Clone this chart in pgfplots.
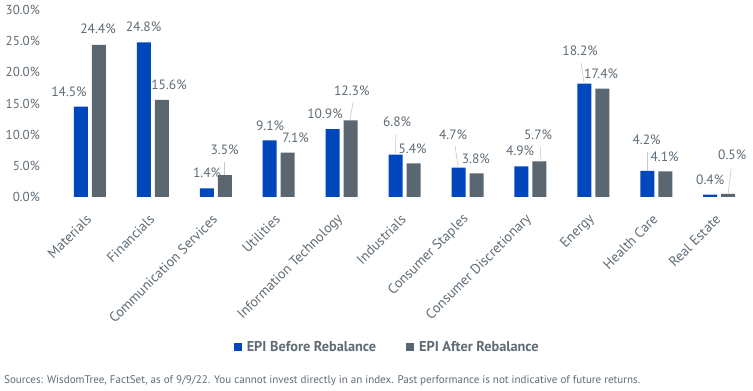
\documentclass[border=0pt]{standalone}
\usepackage{fontspec}
\setmainfont{PT Sans}
\usepackage{pgfplots}
\usepackage{pgfplotstable}
\pgfplotsset{compat=1.18}
\definecolor{epiblue}{HTML}{0047BB}
\definecolor{epigray}{HTML}{5B6770}
\definecolor{txtgray}{HTML}{5F6B75}
\definecolor{leadgray}{HTML}{C4C8CC}

% x = category index, y = weight (%), lx/ly = label offset (bp) from bar top
\pgfplotstableread{
x y lx ly
0 14.5 -12.0 14.6
1 24.8 -0.4 15.4
2 1.4 0.2 15.3
3 9.1 0.3 14.6
4 10.9 -7.6 15.1
5 6.8 1.5 32.6
6 4.7 -5.4 33.0
7 4.9 -1.3 15.5
8 18.2 -4.2 32.9
9 4.2 -0.6 30.8
10 0.4 0.0 15.2
}\before
\pgfplotstableread{
x y lx ly
0 24.4 -1.0 15.9
1 15.6 7.1 14.8
2 3.5 -0.3 25.2
3 7.1 7.8 15.0
4 12.3 1.1 29.6
5 5.4 -1.0 14.3
6 3.8 -0.7 14.3
7 5.7 -1.3 26.8
8 17.4 -1.2 14.5
9 4.1 -0.6 14.7
10 0.5 4.0 38.9
}\after

\begin{document}
\begin{tikzpicture}
\useasboundingbox (0,0) rectangle (753bp,391bp);
\begin{axis}[
  at={(45bp,194bp)}, anchor=south west,
  scale only axis, width=705bp, height=187bp,
  xmin=-0.715, xmax=10.49, ymin=0, ymax=30,
  clip=false,
  axis line style={draw=none},
  major tick length=0pt,
  ybar=4bp, bar width=14bp,
  ytick={0,5,10,15,20,25,30},
  yticklabel={\pgfmathprintnumber[fixed,fixed zerofill,precision=1]{\tick}\%},
  /pgf/number format/assume math mode=true,
  yticklabel style={anchor=east, inner sep=0pt, xshift=-5bp, text=txtgray,
    font=\fontsize{13bp}{15bp}\selectfont},
  xtick={0,1,2,3,4,5,6,7,8,9,10},
  xticklabels={Materials, Financials, Communication Services, Utilities,
    Information Technology, Industrials, Consumer Staples,
    Consumer Discretionary, Energy, Health Care, Real Estate},
  xticklabel style={xshift=-1bp, yshift=-20bp, rotate=45, anchor=east, inner sep=0pt,
    text=txtgray, font=\fontsize{14bp}{16bp}\selectfont},
  nodes near coords={\pgfmathprintnumber[fixed,fixed zerofill,precision=1]{\pgfplotspointmeta}\%},
  nodes near coords style={anchor=center, inner sep=0pt, xshift=\lx bp, yshift=\ly bp,
    text=txtgray, font=\fontsize{13.5bp}{15bp}\selectfont},
  legend style={draw=none, fill=none, legend columns=2,
    at={(0.484,-0.802)}, anchor=center,
    font=\bfseries\fontsize{14.3bp}{16bp}\selectfont, text=txtgray,
    nodes={inner sep=0pt},
    /tikz/every odd column/.append style={column sep=5bp},
    /tikz/every even column/.append style={column sep=30bp}},
  legend image code/.code={\fill[#1] (0bp,-4bp) rectangle (8bp,4bp);},
]
\addplot[fill=epiblue, draw=none,
  visualization depends on={\thisrow{lx}\as\lx},
  visualization depends on={\thisrow{ly}\as\ly}] table[x=x,y=y] {\before};
\addlegendentry{EPI Before Rebalance}
\addplot[fill=epigray, draw=none,
  visualization depends on={\thisrow{lx}\as\lx},
  visualization depends on={\thisrow{ly}\as\ly}] table[x=x,y=y] {\after};
\addlegendentry{EPI After Rebalance}
% leader lines
\draw[leadgray, line width=0.6bp] (axis cs:2.130,5.62) -- (axis cs:2.130,3.53);
\draw[leadgray, line width=0.6bp] (axis cs:4.181,15.24) -- (axis cs:4.134,12.35);
\draw[leadgray, line width=0.6bp] (axis cs:4.865,10.11) -- (axis cs:4.849,6.80);
\draw[leadgray, line width=0.6bp] (axis cs:5.803,8.18) -- (axis cs:5.851,4.70);
\draw[leadgray, line width=0.6bp] (axis cs:7.154,8.18) -- (axis cs:7.170,5.70);
\draw[leadgray, line width=0.6bp] (axis cs:7.806,21.50) -- (axis cs:7.854,18.20);
\draw[leadgray, line width=0.6bp] (axis cs:8.856,7.22) -- (axis cs:8.856,4.20);
\draw[leadgray, line width=0.6bp] (axis cs:10.191,4.65) -- (axis cs:10.143,0.50);
\end{axis}
\node[anchor=base west, inner sep=0pt, text=txtgray, font=\fontsize{11.05bp}{13bp}\selectfont]
  at (4bp,8bp) {Sources: WisdomTree, FactSet, as of 9/9/22. You cannot invest directly in an index. Past performance is not indicative of future returns.};
\end{tikzpicture}
\end{document}
